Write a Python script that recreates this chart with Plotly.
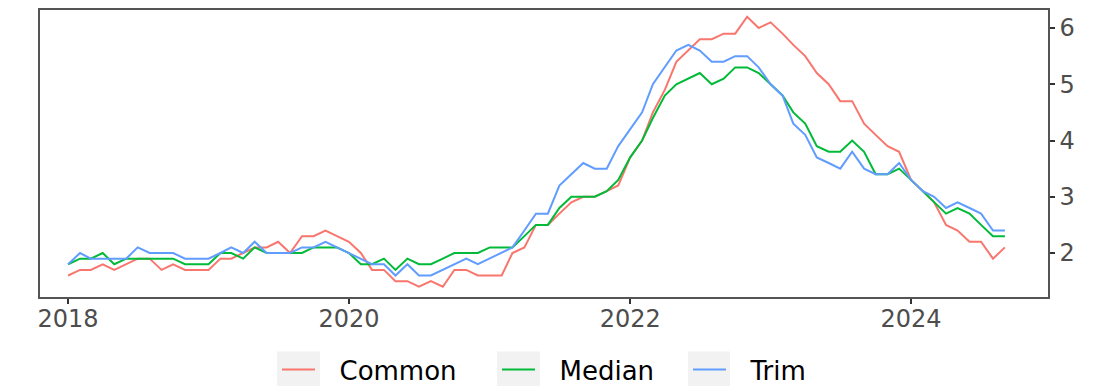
import pandas as pd
import plotly.graph_objects as go

dates = pd.date_range("2018-01-01", periods=81, freq="MS")

common = [1.6, 1.7, 1.7, 1.8, 1.7, 1.8, 1.9, 1.9, 1.7, 1.8, 1.7, 1.7,
          1.7, 1.9, 1.9, 2.0, 2.1, 2.1, 2.2, 2.0, 2.3, 2.3, 2.4, 2.3,
          2.2, 2.0, 1.7, 1.7, 1.5, 1.5, 1.4, 1.5, 1.4, 1.7, 1.7, 1.6,
          1.6, 1.6, 2.0, 2.1, 2.5, 2.5, 2.7, 2.9, 3.0, 3.0, 3.1, 3.2,
          3.7, 4.0, 4.5, 4.9, 5.4, 5.6, 5.8, 5.8, 5.9, 5.9, 6.2, 6.0,
          6.1, 5.9, 5.7, 5.5, 5.2, 5.0, 4.7, 4.7, 4.3, 4.1, 3.9, 3.8,
          3.3, 3.1, 2.9, 2.5, 2.4, 2.2, 2.2, 1.9, 2.1]

median = [1.8, 1.9, 1.9, 2.0, 1.8, 1.9, 1.9, 1.9, 1.9, 1.9, 1.8, 1.8,
          1.8, 2.0, 2.0, 1.9, 2.1, 2.0, 2.0, 2.0, 2.0, 2.1, 2.1, 2.1,
          2.0, 1.8, 1.8, 1.9, 1.7, 1.9, 1.8, 1.8, 1.9, 2.0, 2.0, 2.0,
          2.1, 2.1, 2.1, 2.3, 2.5, 2.5, 2.8, 3.0, 3.0, 3.0, 3.1, 3.3,
          3.7, 4.0, 4.4, 4.8, 5.0, 5.1, 5.2, 5.0, 5.1, 5.3, 5.3, 5.2,
          5.0, 4.8, 4.5, 4.3, 3.9, 3.8, 3.8, 4.0, 3.8, 3.4, 3.4, 3.5,
          3.3, 3.1, 2.9, 2.7, 2.8, 2.7, 2.5, 2.3, 2.3]

trim = [1.8, 2.0, 1.9, 1.9, 1.9, 1.9, 2.1, 2.0, 2.0, 2.0, 1.9, 1.9,
        1.9, 2.0, 2.1, 2.0, 2.2, 2.0, 2.0, 2.0, 2.1, 2.1, 2.2, 2.1,
        2.0, 1.9, 1.8, 1.8, 1.6, 1.8, 1.6, 1.6, 1.7, 1.8, 1.9, 1.8,
        1.9, 2.0, 2.1, 2.4, 2.7, 2.7, 3.2, 3.4, 3.6, 3.5, 3.5, 3.9,
        4.2, 4.5, 5.0, 5.3, 5.6, 5.7, 5.6, 5.4, 5.4, 5.5, 5.5, 5.3,
        5.0, 4.8, 4.3, 4.1, 3.7, 3.6, 3.5, 3.8, 3.5, 3.4, 3.4, 3.6,
        3.3, 3.1, 3.0, 2.8, 2.9, 2.8, 2.7, 2.4, 2.4]

series_names = ["Common", "Median", "Trim"]
series_values = [common, median, trim]
colors = ["#F8766D", "#00BA38", "#619CFF"]

x_ticks = ["2018-01-01", "2020-01-01", "2022-01-01", "2024-01-01"]
x_tick_labels = ["2018", "2020", "2022", "2024"]
y_ticks = [2, 3, 4, 5, 6]

# legend layout (paper fractions of the plot area)
legend_ids = ["legend", "legend2", "legend3"]
key_box_x = [(0.2351, 0.2778), (0.4534, 0.4960), (0.6429, 0.6845)]
legend_y = -0.2526
legend_pad = "\u2002\u2005"  # visual gap between key and label, as in the reference

font_family = "DejaVu Sans, Liberation Sans, sans-serif"

fig = go.Figure()
for name, vals, col, lid in zip(series_names, series_values, colors, legend_ids):
    fig.add_trace(go.Scatter(x=dates, y=vals, mode="lines", name=legend_pad + name,
                             legend=lid, line=dict(color=col, width=2)))

legend_common = dict(orientation="h", xanchor="left", yanchor="middle", y=legend_y,
                     font=dict(size=26, color="black", family=font_family),
                     itemwidth=33, bgcolor="rgba(0,0,0,0)", borderwidth=0)

shapes = []
for x0, x1 in key_box_x:
    shapes.append(dict(type="rect", xref="paper", yref="paper", x0=x0, x1=x1,
                       y0=-0.19, y1=-0.35, fillcolor="#F2F2F2", line=dict(width=0),
                       layer="below"))

fig.update_layout(
    width=1096, height=378,
    margin=dict(l=32, r=56, t=2, b=89, autoexpand=False),
    paper_bgcolor="white", plot_bgcolor="white",
    font=dict(family=font_family, color="#4D4D4D"),
    showlegend=True,
    legend=dict(x=key_box_x[0][0], **legend_common),
    legend2=dict(x=key_box_x[1][0], **legend_common),
    legend3=dict(x=key_box_x[2][0], **legend_common),
    shapes=shapes,
    xaxis=dict(range=["2017-10-20", "2024-12-22"], tickvals=x_ticks, ticktext=x_tick_labels,
               showgrid=False, zeroline=False, ticks="outside", ticklen=5, tickwidth=1.5,
               tickcolor="#333333", tickfont=dict(size=24, color="#4D4D4D"),
               ticklabelstandoff=-6,
               showline=True, mirror=True, linecolor="#555555", linewidth=1.5,
               automargin=False),
    yaxis=dict(range=[1.218, 6.32], tickvals=y_ticks, side="right",
               showgrid=False, zeroline=False, ticks="outside", ticklen=5, tickwidth=1.5,
               tickcolor="#333333", tickfont=dict(size=24, color="#4D4D4D"),
               showline=True, mirror=True, linecolor="#555555", linewidth=1.5,
               automargin=False),
)

fig.write_html("out.html")
